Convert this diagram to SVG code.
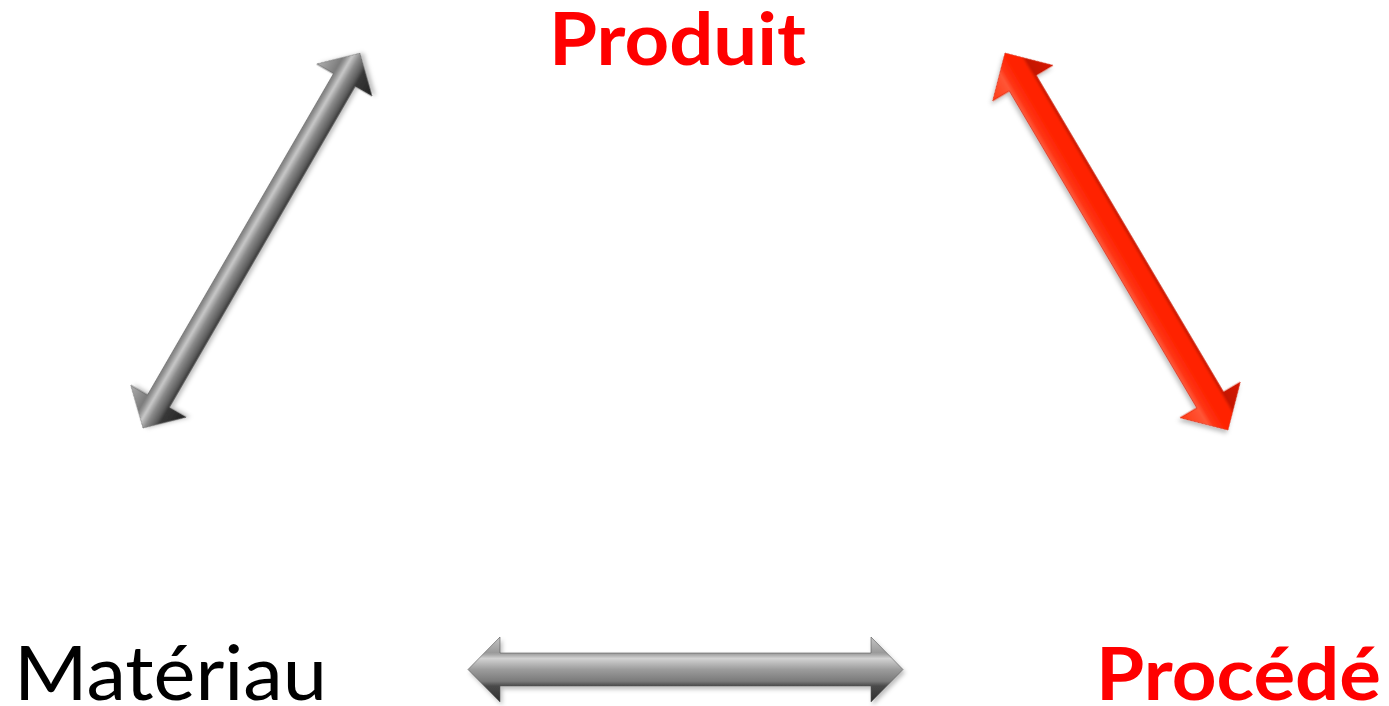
<svg xmlns="http://www.w3.org/2000/svg" width="1389" height="706" viewBox="0 0 1389 706">
  <style>
    .lbl { font-family: Lato, "Open Sans", "Liberation Sans", sans-serif; }
    .red { fill: #ff0000; font-weight: bold; }
    .blk { fill: #000000; font-weight: normal; }
  </style>
  <defs>
    <filter id="sh" x="-10%" y="-10%" width="120%" height="130%">
      <feDropShadow dx="2" dy="3" stdDeviation="2" flood-color="#000" flood-opacity="0.25"/>
    </filter>
    <linearGradient id="gH" gradientUnits="userSpaceOnUse" x1="0" y1="-32.5" x2="0" y2="32.5">
      <stop offset="0" stop-color="#c4c4c4"/>
      <stop offset="0.24" stop-color="#9a9a9a"/>
      <stop offset="0.27" stop-color="#a8a8a8"/>
      <stop offset="0.33" stop-color="#d2d2d2"/>
      <stop offset="0.5" stop-color="#9c9c9c"/>
      <stop offset="0.68" stop-color="#7a7a7a"/>
      <stop offset="0.755" stop-color="#4a4a4a"/>
      <stop offset="1" stop-color="#2e2e2e"/>
    </linearGradient>
    <linearGradient id="gD" gradientUnits="userSpaceOnUse" x1="0" y1="-32" x2="0" y2="32">
      <stop offset="0" stop-color="#b0b0b0"/>
      <stop offset="0.3" stop-color="#7c7c7c"/>
      <stop offset="0.34" stop-color="#909090"/>
      <stop offset="0.42" stop-color="#c8c8c8"/>
      <stop offset="0.52" stop-color="#8a8a8a"/>
      <stop offset="0.63" stop-color="#5e5e5e"/>
      <stop offset="0.695" stop-color="#383838"/>
      <stop offset="1" stop-color="#222222"/>
    </linearGradient>
    <linearGradient id="gR" gradientUnits="userSpaceOnUse" x1="0" y1="-35" x2="0" y2="35">
      <stop offset="0" stop-color="#d81800"/>
      <stop offset="0.28" stop-color="#c41600"/>
      <stop offset="0.34" stop-color="#ff2400"/>
      <stop offset="0.5" stop-color="#ff2200"/>
      <stop offset="0.64" stop-color="#ff3414"/>
      <stop offset="0.71" stop-color="#ff5536"/>
      <stop offset="1" stop-color="#ff3a14"/>
    </linearGradient>
  </defs>

  <g id="connectors">
    <!-- Matériau <-> Produit (gray diagonal) -->
    <g id="arrow-materiau-produit" transform="translate(143,428) rotate(-59.94)" filter="url(#sh)">
      <path d="M0,0 L31,-32 L31,-12.5 L402,-12.5 L402,-32 L433,0 L402,32 L402,12.5 L31,12.5 L31,32 Z" fill="url(#gD)" stroke="#505050" stroke-width="0.6" stroke-linejoin="round"/>
    </g>
    <!-- Produit <-> Procédé (red diagonal) -->
    <g id="arrow-produit-procede" transform="translate(1005,53) rotate(59.4)" filter="url(#sh)">
      <path d="M0,0 L35,-35 L35,-15.5 L403,-15.5 L403,-35 L438,0 L403,35 L403,15.5 L35,15.5 L35,35 Z" fill="url(#gR)" stroke="#d01800" stroke-width="0.6" stroke-linejoin="round"/>
    </g>
    <!-- Matériau <-> Procédé (gray horizontal) -->
    <g id="arrow-materiau-procede" transform="translate(468,669.5)" filter="url(#sh)">
      <path d="M0,0 L32,-32.5 L32,-16.5 L403,-16.5 L403,-32.5 L435,0 L403,32.5 L403,16.5 L32,16.5 L32,32.5 Z" fill="url(#gH)" stroke="#555" stroke-width="0.6" stroke-linejoin="round"/>
    </g>
  </g>

  <g id="node-produit">
    <text class="lbl red" x="549" y="65" font-size="72" textLength="257" lengthAdjust="spacingAndGlyphs">Produit</text>
  </g>
  <g id="node-materiau">
    <text class="lbl blk" x="14" y="700" font-size="75" textLength="313" lengthAdjust="spacingAndGlyphs">Matériau</text>
  </g>
  <g id="node-procede">
    <text class="lbl red" x="1096" y="700" font-size="72" textLength="285" lengthAdjust="spacingAndGlyphs">Procédé</text>
  </g>
</svg>
